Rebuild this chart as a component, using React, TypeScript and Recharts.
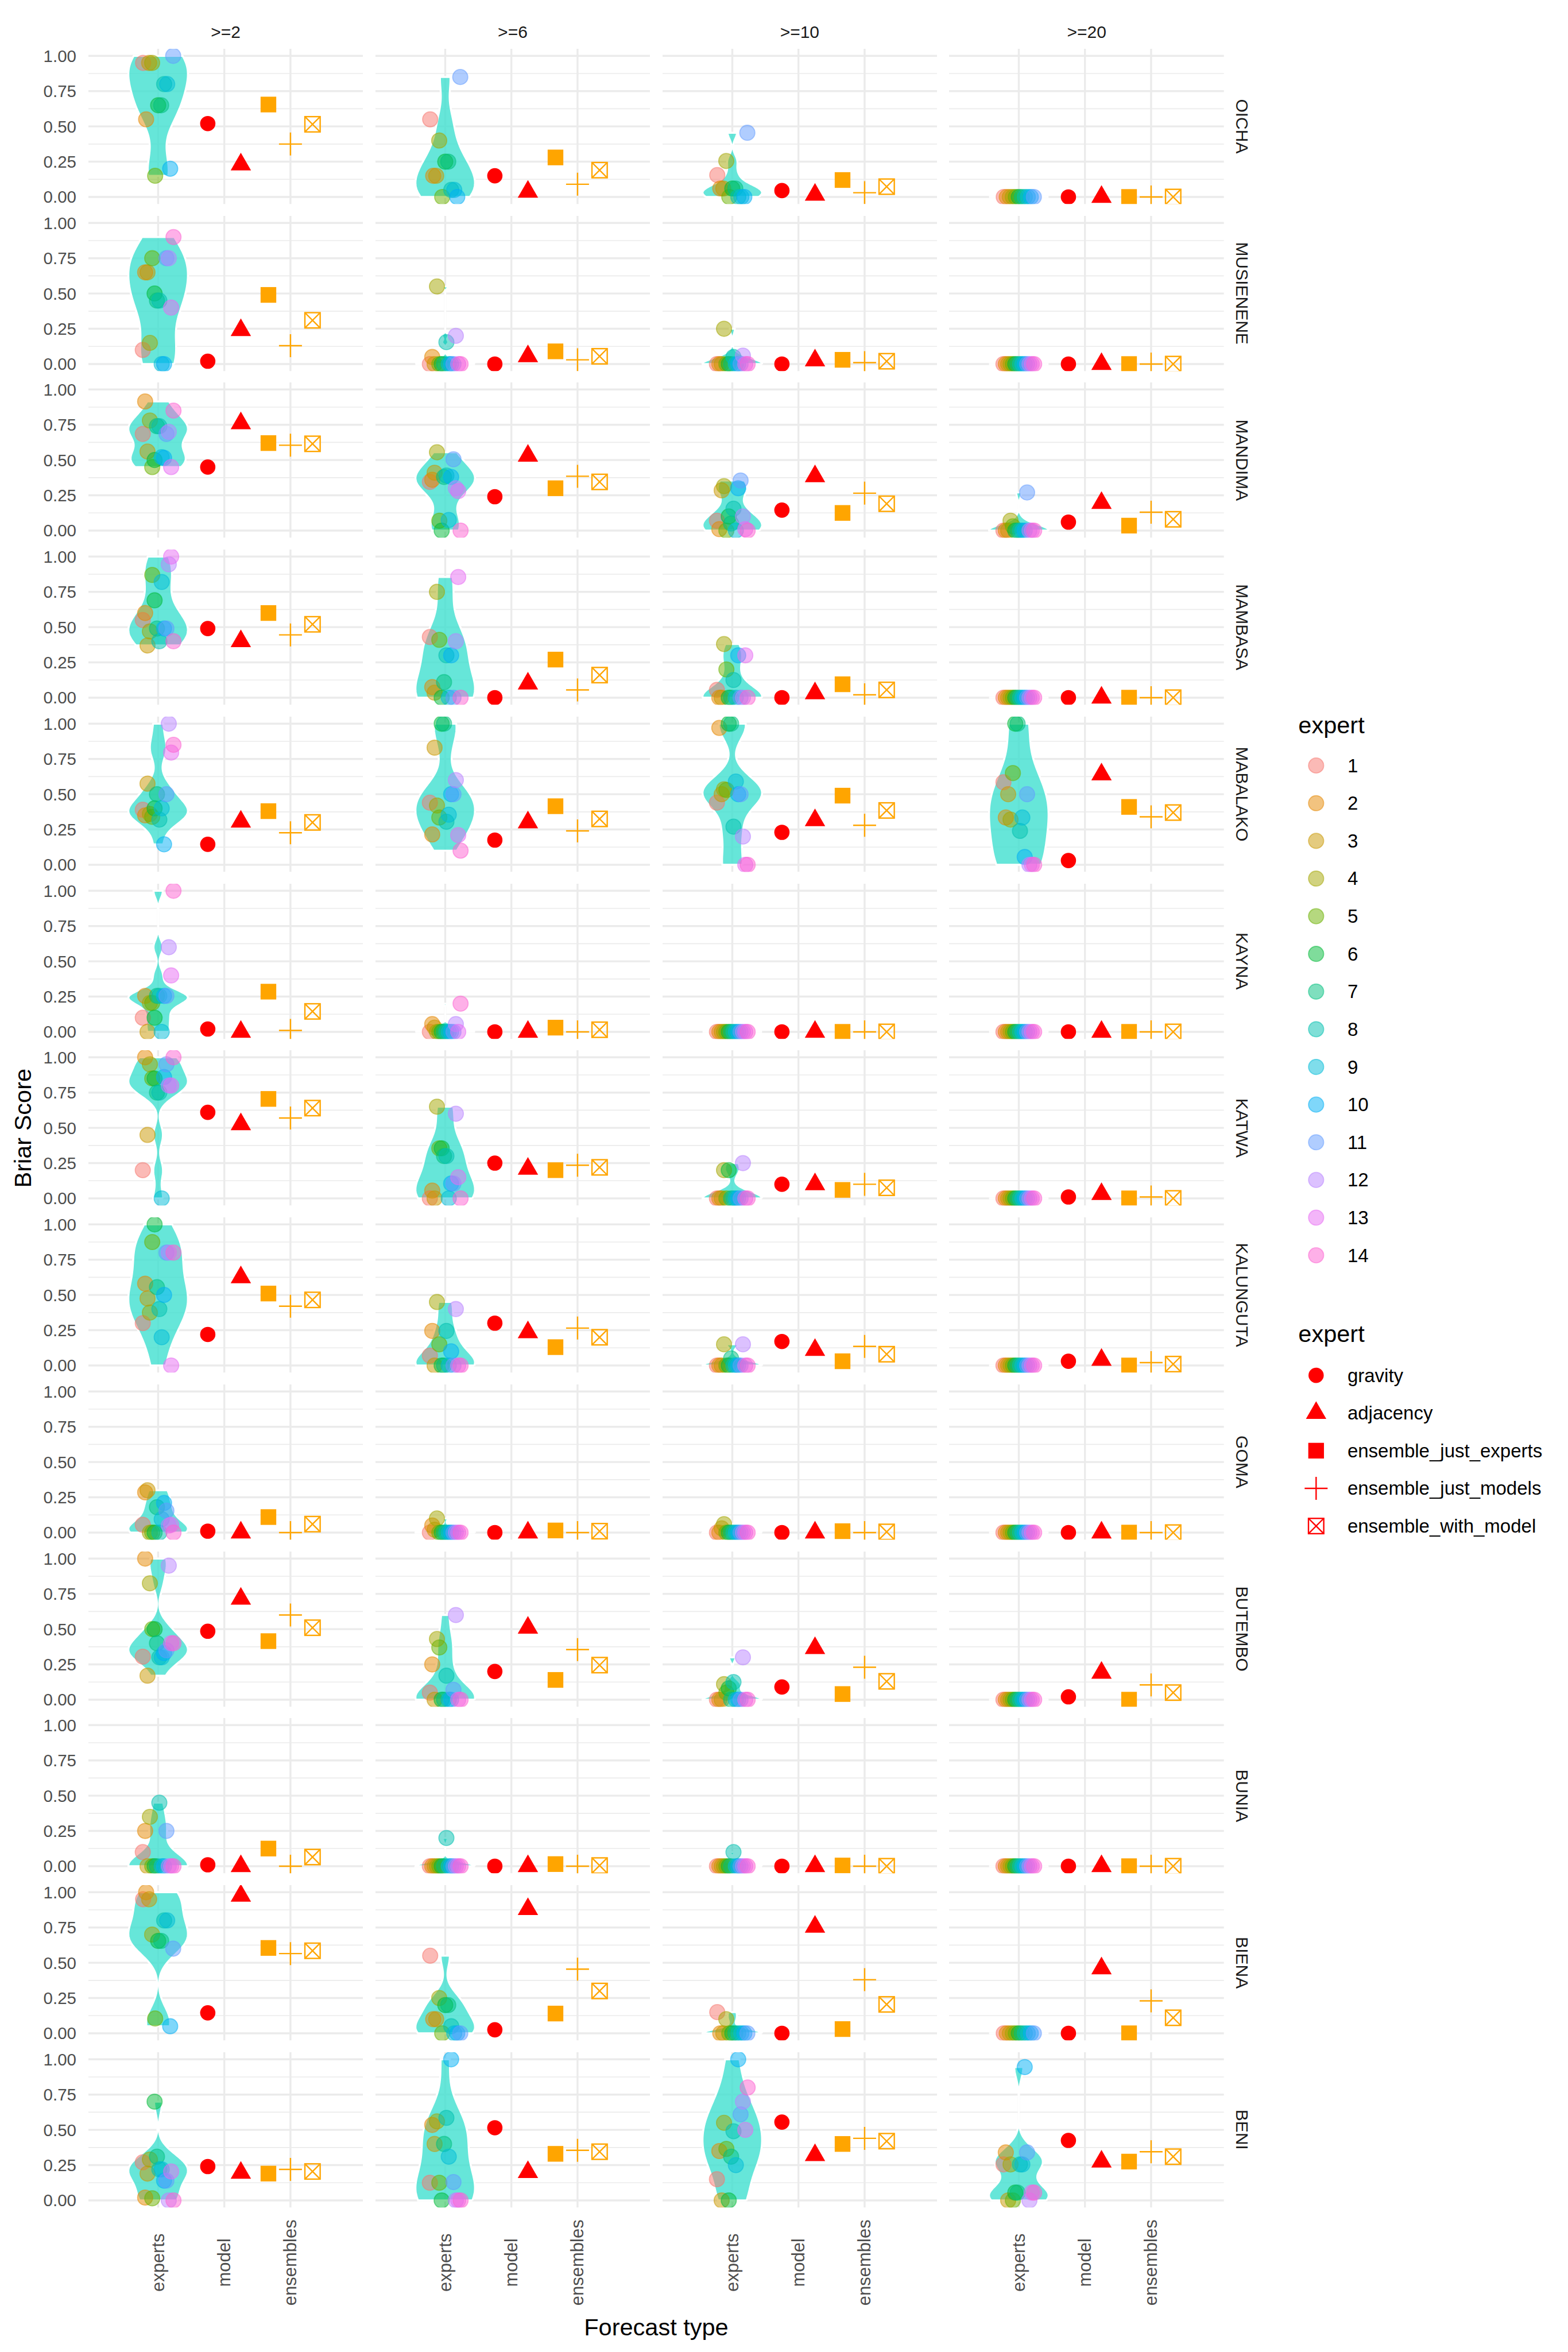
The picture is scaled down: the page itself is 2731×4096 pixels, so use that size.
import React from 'react';
import { ComposedChart, Area, Scatter, XAxis, YAxis, CartesianGrid } from 'recharts';

const S = 0.91;
const FONT = "'Liberation Sans', Arial, Helvetica, sans-serif";

const LOCATIONS = ['OICHA', 'MUSIENENE', 'MANDIMA', 'MAMBASA', 'MABALAKO', 'KAYNA', 'KATWA', 'KALUNGUTA', 'GOMA', 'BUTEMBO', 'BUNIA', 'BIENA', 'BENI'];
const THRESHOLDS = ['>=2', '>=6', '>=10', '>=20'];
const FORECAST_TYPES = ['experts', 'model', 'ensembles'];
const EXPERT_IDS = ['1', '2', '3', '4', '5', '6', '7', '8', '9', '10', '11', '12', '13', '14'];
const EXPERT_COLORS = ['#F8766D', '#E58700', '#C99800', '#A3A500', '#6BB100', '#00BA38', '#00BF7D', '#00C0AF', '#00BCD8', '#00B0F6', '#619CFF', '#B983FF', '#E76BF3', '#FD61D1'];
const MODEL_TYPES = ['gravity', 'adjacency', 'ensemble_just_experts', 'ensemble_just_models', 'ensemble_with_model'];
const N_EXPERTS = [11, 14, 14, 14, 14, 14, 14, 14, 14, 14, 14, 11, 14];

// Expert Briar scores: per location, one array per threshold (>=2, >=6, >=10, >=20), one value per expert
const OICHA_EXPERTS = [
  [0.95, 0.55, 0.95, 0.95, 0.15, 0.65, 0.65, 0.80, 0.80, 0.20, 1.00],
  [0.55, 0.15, 0.15, 0.40, 0.00, 0.25, 0.25, 0.05, 0.05, 0.00, 0.85],
  [0.155, 0.06, 0.06, 0.255, 0.00, 0.06, 0.06, 0.00, 0.00, 0.00, 0.455],
  [0, 0, 0, 0, 0, 0, 0, 0, 0, 0, 0],
];
const MUSIENENE_EXPERTS = [
  [0.10, 0.65, 0.65, 0.15, 0.75, 0.50, 0.45, 0.45, 0.00, 0.00, 0.75, 0.75, 0.40, 0.90],
  [0, 0.05, 0, 0.55, 0, 0, 0, 0.155, 0, 0, 0, 0.20, 0, 0],
  [0, 0, 0, 0.25, 0, 0, 0, 0.05, 0, 0, 0, 0.06, 0, 0],
  [0, 0, 0, 0, 0, 0, 0, 0, 0, 0, 0, 0, 0, 0],
];
const MANDIMA_EXPERTS = [
  [0.685, 0.915, 0.56, 0.78, 0.45, 0.50, 0.74, 0.74, 0.52, 0.515, 0.685, 0.70, 0.45, 0.85],
  [0.345, 0.36, 0.41, 0.555, 0.07, 0.0, 0.38, 0.39, 0.075, 0.38, 0.505, 0.30, 0.28, 0.0],
  [0.07, 0.01, 0.285, 0.315, 0.0, 0.10, 0.05, 0.155, 0.0, 0.30, 0.355, 0.10, 0.01, 0.0],
  [0, 0, 0, 0.07, 0.03, 0, 0, 0, 0, 0, 0.27, 0, 0, 0],
];
const MAMBASA_EXPERTS = [
  [0.55, 0.60, 0.37, 0.47, 0.87, 0.69, 0.49, 0.40, 0.82, 0.49, 0.49, 0.945, 1.0, 0.40],
  [0.43, 0.075, 0.035, 0.75, 0.41, 0.0, 0.11, 0.30, 0.0, 0.30, 0.0, 0.40, 0.855, 0.0],
  [0.055, 0, 0, 0.38, 0.20, 0, 0, 0.125, 0, 0.30, 0, 0, 0.30, 0],
  [0, 0, 0, 0, 0, 0, 0, 0, 0, 0, 0, 0, 0, 0],
];
const MABALAKO_EXPERTS = [
  [0.39, 0.35, 0.575, 0.36, 0.34, 0.40, 0.50, 0.32, 0.40, 0.145, 0.50, 1.0, 0.795, 0.85],
  [0.44, 0.215, 0.83, 0.42, 0.335, 1.0, 1.0, 0.305, 0.355, 0.50, 0.50, 0.60, 0.21, 0.10],
  [0.44, 0.97, 0.50, 0.535, 0.53, 1.0, 1.0, 0.27, 0.59, 0.50, 0.50, 0.20, 0.0, 0.0],
  [0.585, 0.335, 0.50, 0.32, 0.65, 1.0, 1.0, 0.24, 0.335, 0.055, 0.50, 0.0, 0.0, 0.0],
];
const KAYNA_EXPERTS = [
  [0.10, 0.255, 0.0, 0.205, 0.205, 0.10, 0.255, 0.255, 0.0, 0.255, 0.255, 0.60, 0.40, 1.0],
  [0, 0.055, 0.03, 0, 0, 0, 0, 0, 0, 0, 0, 0.055, 0, 0.20],
  [0, 0, 0, 0, 0, 0, 0, 0, 0, 0, 0, 0, 0, 0],
  [0, 0, 0, 0, 0, 0, 0, 0, 0, 0, 0, 0, 0, 0],
];
const KATWA_EXPERTS = [
  [0.20, 1.0, 0.45, 0.95, 0.85, 0.85, 0.75, 0.75, 0.0, 0.86, 0.95, 0.80, 0.80, 1.0],
  [0, 0.055, 0, 0.65, 0.355, 0.355, 0.30, 0.30, 0, 0.105, 0.105, 0.60, 0.15, 0],
  [0, 0, 0, 0.20, 0, 0.20, 0, 0, 0, 0, 0, 0.25, 0, 0],
  [0, 0, 0, 0, 0, 0, 0, 0, 0, 0, 0, 0, 0, 0],
];
const KALUNGUTA_EXPERTS = [
  [0.30, 0.58, 0.475, 0.375, 0.875, 1.0, 0.555, 0.40, 0.20, 0.50, 0.80, 0.80, 0.0, 0.80],
  [0.07, 0.245, 0, 0.45, 0.15, 0, 0, 0.245, 0, 0.10, 0, 0.40, 0, 0],
  [0, 0, 0, 0.15, 0, 0, 0.05, 0, 0, 0, 0, 0.15, 0, 0],
  [0, 0, 0, 0, 0, 0, 0, 0, 0, 0, 0, 0, 0, 0],
];
const GOMA_EXPERTS = [
  [0.055, 0.285, 0.30, 0.0, 0.0, 0.0, 0.18, 0.0, 0.095, 0.21, 0.155, 0.05, 0.055, 0.0],
  [0, 0.05, 0.02, 0.10, 0, 0, 0, 0, 0, 0, 0, 0, 0, 0],
  [0, 0, 0.03, 0.06, 0, 0, 0, 0, 0, 0, 0, 0, 0, 0],
  [0, 0, 0, 0, 0, 0, 0, 0, 0, 0, 0, 0, 0, 0],
];
const BUTEMBO_EXPERTS = [
  [0.305, 1.0, 0.17, 0.825, 0.50, 0.50, 0.40, 0.30, 0.30, 0.33, 0.35, 0.95, 0.40, 0.40],
  [0.05, 0.25, 0, 0.43, 0.37, 0, 0, 0.17, 0, 0, 0.07, 0.60, 0, 0],
  [0, 0, 0, 0.11, 0.05, 0.08, 0, 0.125, 0, 0, 0, 0.30, 0, 0],
  [0, 0, 0, 0, 0, 0, 0, 0, 0, 0, 0, 0, 0, 0],
];
const BUNIA_EXPERTS = [
  [0.10, 0.25, 0, 0.35, 0, 0, 0, 0.45, 0, 0, 0.25, 0, 0, 0],
  [0, 0, 0, 0, 0, 0, 0, 0.20, 0, 0, 0, 0, 0, 0],
  [0, 0, 0, 0, 0, 0, 0, 0.10, 0, 0, 0, 0, 0, 0],
  [0, 0, 0, 0, 0, 0, 0, 0, 0, 0, 0, 0, 0, 0],
];
const BIENA_EXPERTS = [
  [0.95, 1.0, 0.95, 0.70, 0.105, 0.655, 0.655, 0.80, 0.80, 0.05, 0.60],
  [0.55, 0.10, 0.10, 0.25, 0.0, 0.20, 0.20, 0.05, 0.0, 0.0, 0.0],
  [0.15, 0, 0, 0.10, 0, 0, 0, 0, 0, 0, 0],
  [0, 0, 0, 0, 0, 0, 0, 0, 0, 0, 0],
];
const BENI_EXPERTS = [
  [0.27, 0.02, 0.19, 0.29, 0.015, 0.70, 0.31, 0.22, 0.22, 0.14, 0.14, 0.0, 0.205, 0.0],
  [0.125, 0.535, 0.40, 0.56, 0.125, 0.0, 0.40, 0.585, 0.31, 1.0, 0.13, 0.0, 0.0, 0.0],
  [0.15, 0.35, 0.0, 0.55, 0.365, 0.0, 0.31, 0.49, 0.25, 1.0, 0.61, 0.70, 0.50, 0.80],
  [0.255, 0.34, 0.0, 0.255, 0.0, 0.055, 0.055, 0.255, 0.255, 0.945, 0.34, 0.0, 0.055, 0.055],
];
const EXPERT_SCORES = [OICHA_EXPERTS, MUSIENENE_EXPERTS, MANDIMA_EXPERTS, MAMBASA_EXPERTS, MABALAKO_EXPERTS, KAYNA_EXPERTS, KATWA_EXPERTS, KALUNGUTA_EXPERTS, GOMA_EXPERTS, BUTEMBO_EXPERTS, BUNIA_EXPERTS, BIENA_EXPERTS, BENI_EXPERTS];

// Model and ensemble scores: per location (rows) and threshold (columns)
const GRAVITY = [
  [0.52, 0.15, 0.045, 0.0], [0.02, 0.0, 0.0, 0.0], [0.45, 0.24, 0.145, 0.06], [0.49, 0.0, 0.0, 0.0],
  [0.145, 0.175, 0.23, 0.03], [0.02, 0.0, 0.0, 0.0], [0.61, 0.25, 0.10, 0.01], [0.22, 0.30, 0.17, 0.03],
  [0.01, 0.0, 0.0, 0.0], [0.485, 0.20, 0.09, 0.02], [0.01, 0.0, 0.0, 0.0], [0.145, 0.025, 0.0, 0.0], [0.24, 0.515, 0.555, 0.425],
];
const ADJACENCY = [
  [0.23, 0.037, 0.015, 0.0], [0.24, 0.055, 0.025, 0.0], [0.76, 0.53, 0.385, 0.195], [0.40, 0.10, 0.03, 0.0],
  [0.305, 0.30, 0.315, 0.64], [0.0, 0.0, 0.0, 0.0], [0.525, 0.21, 0.10, 0.03], [0.625, 0.235, 0.11, 0.04],
  [0.0, 0.0, 0.0, 0.0], [0.715, 0.51, 0.365, 0.19], [0.0, 0.0, 0.0, 0.0], [0.975, 0.88, 0.755, 0.46], [0.195, 0.20, 0.32, 0.275],
];
const ENS_JUST_EXPERTS = [
  [0.655, 0.28, 0.12, 0.0], [0.49, 0.09, 0.03, 0.0], [0.62, 0.30, 0.125, 0.035], [0.60, 0.27, 0.095, 0.0],
  [0.38, 0.415, 0.49, 0.41], [0.285, 0.03, 0.0, 0.0], [0.705, 0.20, 0.06, 0.0], [0.51, 0.13, 0.03, 0.0],
  [0.11, 0.015, 0.01, 0.0], [0.415, 0.14, 0.04, 0.0], [0.125, 0.015, 0.005, 0.0], [0.605, 0.14, 0.03, 0.0], [0.19, 0.33, 0.40, 0.275],
];
const ENS_JUST_MODELS = [
  [0.375, 0.09, 0.03, 0.0], [0.13, 0.03, 0.01, 0.0], [0.605, 0.385, 0.265, 0.13], [0.445, 0.055, 0.02, 0.0],
  [0.227, 0.24, 0.28, 0.34], [0.01, 0.0, 0.0, 0.0], [0.57, 0.235, 0.10, 0.01], [0.42, 0.265, 0.135, 0.02],
  [0.0, 0.0, 0.0, 0.0], [0.60, 0.355, 0.23, 0.105], [0.0, 0.0, 0.0, 0.0], [0.565, 0.455, 0.38, 0.23], [0.22, 0.355, 0.44, 0.345],
];
const ENS_WITH_MODEL = [
  [0.515, 0.19, 0.073, 0.0], [0.31, 0.055, 0.02, 0.0], [0.615, 0.345, 0.19, 0.08], [0.52, 0.16, 0.055, 0.0],
  [0.30, 0.325, 0.385, 0.37], [0.145, 0.015, 0.0, 0.0], [0.64, 0.22, 0.075, 0.0], [0.465, 0.20, 0.08, 0.01],
  [0.06, 0.01, 0.005, 0.0], [0.51, 0.245, 0.13, 0.05], [0.065, 0.005, 0.0, 0.0], [0.585, 0.30, 0.205, 0.11], [0.205, 0.345, 0.42, 0.31],
];
const MODEL_SERIES = [GRAVITY, ADJACENCY, ENS_JUST_EXPERTS, ENS_JUST_MODELS, ENS_WITH_MODEL];
// which forecast-type category each model series sits in, and its slot in the dodge group
const MODEL_CATEGORY = [2, 2, 3, 3, 3];
const MODEL_SLOT = [0, 1, 0, 1, 2];
const MODEL_GROUP_SIZE = [2, 2, 3, 3, 3];

// ---------- layout (output pixels) ----------
const PLOT_LEFT0 = 169 * S;
const COL_PITCH = 549.3 * S;
const PLOT_W = 526 * S;
const PLOT_TOP0 = 93.2 * S;
const ROW_PITCH = 319.5 * S;
const PLOT_H = 297 * S;
const YAXIS_W = 140;
const XAXIS_H = 220;
const PAD = 24;
const X_DOMAIN: [number, number] = [-0.054, 4.1];
const Y_DOMAIN: [number, number] = [-0.05, 1.05];
const Y_MAJOR = [0, 0.25, 0.5, 0.75, 1];
const Y_MINOR = [0.125, 0.375, 0.625, 0.875];
const X_MAJOR = [1, 2, 3];
const VIOLIN_HALF = 0.45;
const EXPERT_DODGE = 0.5;
const GROUP_DODGE = 1;

const TICK_FONT = 29.5;
const X_TICK_FONT = 31;
const STRIP_FONT = 30;
const LEGEND_FONT = 33;
const TITLE_FONT = 41.5;
const GRID = '#EBEBEB';
const RED = '#FF0000';
const ORANGE = '#FFA500';
const VIOLIN_FILL = '#40E0D0';

const EXPERT_R = 13.2;
const GRAV_R = 13.3;
const TRI_Y = 10.25;
const SQ = 27.3;
const PLUS_HALF = 20;
const LINE_W = 2.4;
const BOX = 26.6;

const dodge = (i: number, n: number, width: number) => -width / 2 + (width * (i + 0.5)) / n;

// ---------- violin density (gaussian kernel, bw.nrd0, trimmed, scaled to width) ----------
function bwNrd0(x: number[]) {
  const n = x.length;
  const mean = x.reduce((a, b) => a + b, 0) / n;
  const sd = Math.sqrt(x.reduce((a, b) => a + (b - mean) * (b - mean), 0) / (n - 1));
  const s = [...x].sort((a, b) => a - b);
  const q = (p: number) => {
    const h = (n - 1) * p;
    const lo = Math.floor(h);
    const hi = Math.min(lo + 1, n - 1);
    return s[lo] + (h - lo) * (s[hi] - s[lo]);
  };
  const iqr = q(0.75) - q(0.25);
  let lo = Math.min(sd, iqr / 1.34);
  if (!(lo > 0)) lo = sd || Math.abs(x[0]) || 1;
  return 0.9 * lo * Math.pow(n, -0.2);
}

function violinOf(values: (number | null)[]) {
  const x = values.filter((v) => v != null) as number[];
  const min = Math.min(...x);
  const max = Math.max(...x);
  if (max - min < 1e-9) {
    return {
      fill: [] as { y: number; v: [number, number] }[],
      outline: [{ x: 1 - VIOLIN_HALF, y: min }, { x: 1 + VIOLIN_HALF, y: min }],
    };
  }
  const bw = bwNrd0(x);
  const K = 120;
  const ys: number[] = [];
  const ds: number[] = [];
  for (let k = 0; k <= K; k++) {
    const y = min + ((max - min) * k) / K;
    let d = 0;
    for (const xi of x) {
      const u = (y - xi) / bw;
      d += Math.exp(-0.5 * u * u);
    }
    ys.push(y);
    ds.push(d);
  }
  const maxD = Math.max(...ds);
  const ws = ds.map((d) => (VIOLIN_HALF * d) / maxD);
  const fill = ys.map((y, k) => ({ y, v: [1 - ws[k], 1 + ws[k]] as [number, number] }));
  const outline: { x: number; y: number }[] = [];
  ys.forEach((y, k) => outline.push({ x: 1 + ws[k], y }));
  for (let k = K; k >= 0; k--) outline.push({ x: 1 - ws[k], y: ys[k] });
  outline.push({ x: 1 + ws[0], y: ys[0] });
  return { fill, outline };
}

// ---------- marks ----------
const drawExpert = (cx: number, cy: number, color: string, key?: string) => (
  <circle key={key} cx={cx} cy={cy} r={EXPERT_R} fill={color} fillOpacity={0.5} stroke={color} strokeOpacity={0.5} strokeWidth={1.8} />
);
const drawModel = (kind: number, cx: number, cy: number, color: string, key?: string) => {
  if (kind === 0) return <circle key={key} cx={cx} cy={cy} r={GRAV_R} fill={color} />;
  if (kind === 1)
    return (
      <polygon
        key={key}
        points={`${cx},${cy - 2 * TRI_Y} ${cx + 1.732 * TRI_Y},${cy + TRI_Y} ${cx - 1.732 * TRI_Y},${cy + TRI_Y}`}
        fill={color}
      />
    );
  if (kind === 2) return <rect key={key} x={cx - SQ / 2} y={cy - SQ / 2} width={SQ} height={SQ} fill={color} />;
  if (kind === 3)
    return (
      <g key={key} stroke={color} strokeWidth={LINE_W}>
        <line x1={cx - PLUS_HALF} y1={cy} x2={cx + PLUS_HALF} y2={cy} />
        <line x1={cx} y1={cy - PLUS_HALF} x2={cx} y2={cy + PLUS_HALF} />
      </g>
    );
  const h = BOX / 2;
  return (
    <g key={key} stroke={color} strokeWidth={LINE_W} fill="none">
      <rect x={cx - h} y={cy - h} width={BOX} height={BOX} />
      <line x1={cx - h} y1={cy - h} x2={cx + h} y2={cy + h} />
      <line x1={cx - h} y1={cy + h} x2={cx + h} y2={cy - h} />
    </g>
  );
};

const blankShape = () => <g />;
const expertShape = (p: any) => drawExpert(p.cx, p.cy, p.payload.color);
const modelShape = (p: any) => drawModel(p.payload.kind, p.cx, p.cy, p.payload.kind < 2 ? RED : ORANGE);

const renderXTick = (props: any) => {
  const { x, y, payload } = props;
  const label = FORECAST_TYPES[Math.round(payload.value) - 1] || '';
  const ty = y + 96;
  return (
    <text x={x} y={ty} transform={`rotate(-90 ${x} ${ty})`} textAnchor="middle" dominantBaseline="central" fontSize={X_TICK_FONT} fill="#4D4D4D" fontFamily={FONT}>
      {label}
    </text>
  );
};

function Panel({ r, c }: { r: number; c: number }) {
  const n = N_EXPERTS[r];
  const scores = EXPERT_SCORES[r][c];
  const experts = scores
    .map((v, i) => (v == null ? null : { x: 1 + dodge(i, n, EXPERT_DODGE), y: v, color: EXPERT_COLORS[i] }))
    .filter(Boolean);
  const models = MODEL_SERIES.map((series, k) => ({
    x: MODEL_CATEGORY[k] + dodge(MODEL_SLOT[k], MODEL_GROUP_SIZE[k], GROUP_DODGE),
    y: series[r][c],
    kind: k,
  }));
  const vio = violinOf(scores);
  const isLeft = c === 0;
  const isBottom = r === LOCATIONS.length - 1;
  const width = PLOT_W + (isLeft ? YAXIS_W : 0);
  const height = PLOT_H + 2 * PAD + (isBottom ? XAXIS_H : 0);
  const left = PLOT_LEFT0 + c * COL_PITCH - (isLeft ? YAXIS_W : 0);
  const top = PLOT_TOP0 + r * ROW_PITCH - PAD;
  return (
    <div style={{ position: 'absolute', left, top, width, height }}>
      <ComposedChart width={width} height={height} layout="vertical" data={vio.fill} margin={{ top: PAD, right: 0, bottom: PAD, left: 0 }}>
        <CartesianGrid horizontalValues={Y_MINOR} vertical={false} stroke={GRID} strokeWidth={1.7} />
        <CartesianGrid horizontalValues={Y_MAJOR} verticalValues={X_MAJOR} stroke={GRID} strokeWidth={3.4} />
        <XAxis
          type="number"
          dataKey="x"
          domain={X_DOMAIN}
          allowDataOverflow
          ticks={X_MAJOR}
          interval={0}
          hide={!isBottom}
          height={XAXIS_H}
          axisLine={false}
          tickLine={false}
          tickSize={0}
          tickMargin={0}
          tick={renderXTick}
        />
        <YAxis
          type="number"
          dataKey="y"
          reversed
          domain={Y_DOMAIN}
          allowDataOverflow
          ticks={Y_MAJOR}
          interval={0}
          hide={!isLeft}
          width={YAXIS_W}
          axisLine={false}
          tickLine={false}
          tickSize={0}
          tickMargin={21}
          tickFormatter={(v: number) => v.toFixed(2)}
          tick={{ fontSize: TICK_FONT, fill: '#4D4D4D', fontFamily: FONT }}
        />
        <Area dataKey="v" type="linear" fill={VIOLIN_FILL} fillOpacity={0.8} stroke="none" isAnimationActive={false} />
        <Scatter data={vio.outline} line={{ stroke: '#FFFFFF', strokeWidth: 3.4 }} shape={blankShape} isAnimationActive={false} />
        <Scatter data={experts as any[]} shape={expertShape} isAnimationActive={false} />
        <Scatter data={models} shape={modelShape} isAnimationActive={false} />
      </ComposedChart>
    </div>
  );
}

function Overlay() {
  const legendX = 2519 * S;
  const labelX = 2579 * S;
  const titleX = 2485 * S;
  const step = 72.1 * S;
  const t1 = 1387 * S;
  const e0 = 1465 * S;
  const t2 = 2552 * S;
  const m0 = 2632 * S;
  return (
    <svg width={2731} height={4096} style={{ position: 'absolute', left: 0, top: 0, pointerEvents: 'none' }} fontFamily={FONT}>
      {THRESHOLDS.map((t, c) => (
        <text key={t} x={PLOT_LEFT0 + c * COL_PITCH + PLOT_W / 2} y={61.5 * S} textAnchor="middle" dominantBaseline="central" fontSize={STRIP_FONT} fill="#1A1A1A">
          {t}
        </text>
      ))}
      {LOCATIONS.map((loc, r) => {
        const x = 2377 * S;
        const y = PLOT_TOP0 + r * ROW_PITCH + PLOT_H / 2;
        return (
          <text key={loc} x={x} y={y} transform={`rotate(90 ${x} ${y})`} textAnchor="middle" dominantBaseline="central" fontSize={STRIP_FONT} fill="#1A1A1A">
            {loc}
          </text>
        );
      })}
      <text x={43 * S} y={2159 * S} transform={`rotate(-90 ${43 * S} ${2159 * S})`} textAnchor="middle" dominantBaseline="central" fontSize={TITLE_FONT} fill="#000">
        Briar Score
      </text>
      <text x={1256 * S} y={4453 * S} textAnchor="middle" dominantBaseline="central" fontSize={TITLE_FONT} fill="#000">
        Forecast type
      </text>
      <text x={titleX} y={t1} dominantBaseline="central" fontSize={TITLE_FONT} fill="#000">expert</text>
      {EXPERT_IDS.map((id, i) => (
        <g key={id}>
          {drawExpert(legendX, e0 + i * step, EXPERT_COLORS[i])}
          <text x={labelX} y={e0 + i * step} dominantBaseline="central" fontSize={LEGEND_FONT} fill="#000">{id}</text>
        </g>
      ))}
      <text x={titleX} y={t2} dominantBaseline="central" fontSize={TITLE_FONT} fill="#000">expert</text>
      {MODEL_TYPES.map((m, k) => (
        <g key={m}>
          {drawModel(k, legendX, m0 + k * step, RED)}
          <text x={labelX} y={m0 + k * step} dominantBaseline="central" fontSize={LEGEND_FONT} fill="#000">{m}</text>
        </g>
      ))}
    </svg>
  );
}

export default function App() {
  const panels: React.ReactElement[] = [];
  LOCATIONS.forEach((_, r) => THRESHOLDS.forEach((__, c) => panels.push(<Panel key={`${r}-${c}`} r={r} c={c} />)));
  return (
    <div style={{ position: 'absolute', left: 0, top: 0, width: 2731, height: 4096, background: '#FFFFFF', fontFamily: FONT }}>
      {panels}
      <Overlay />
    </div>
  );
}
